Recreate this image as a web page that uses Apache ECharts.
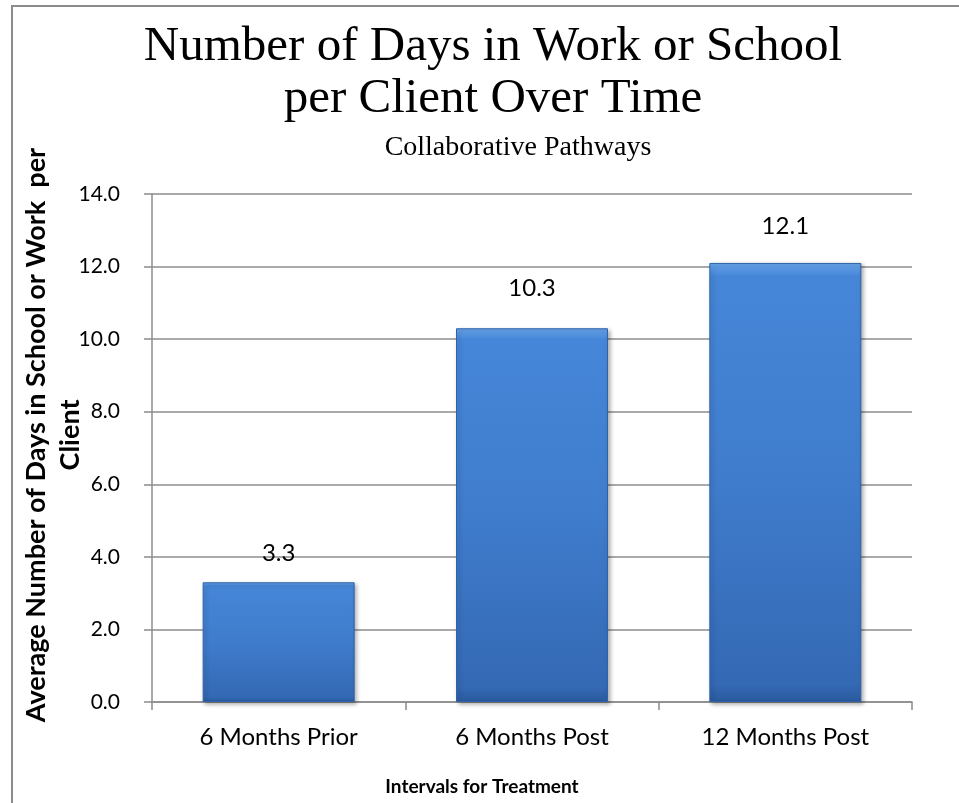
<!DOCTYPE html>
<html>
<head>
<meta charset="utf-8">
<script src="https://cdn.jsdelivr.net/npm/echarts@6/dist/echarts.min.js"></script>
<style>
  html, body { margin: 0; padding: 0; background: #fff; }
  #chart { width: 959px; height: 803px; }
</style>
</head>
<body>
<div id="chart"></div>
<script>
// data
var categories = ['6 Months Prior', '6 Months Post', '12 Months Post']
var daysPerClient = [3.3, 10.3, 12.1]
var yTicks = { min: 0, max: 14, interval: 2 }
// gap between bar top and its value label (Excel placed them by hand)
var labelGaps = [17, 28, 25]

var chart = echarts.init(document.getElementById('chart'))

var barColor = new echarts.graphic.LinearGradient(0, 0, 0, 1, [
  { offset: 0, color: '#6aa6ec' },
  { offset: 0.03, color: '#4686d8' },
  { offset: 0.5, color: '#3f7ccc' },
  { offset: 0.96, color: '#3469b4' },
  { offset: 1, color: '#2a5a9e' }
])

var barData = daysPerClient.map(function (v, i) {
  return { value: v, label: { distance: labelGaps[i] } }
})

var option = {
  backgroundColor: '#fff',
  title: [
    {
      text: 'Number of Days in Work or School\nper Client Over Time',
      left: 493,
      textAlign: 'center',
      top: 21,
      padding: 0,
      textStyle: {
        fontFamily: 'Liberation Serif',
        fontWeight: 'normal',
        fontSize: 49,
        lineHeight: 52,
        color: '#000'
      }
    },
    {
      text: 'Collaborative Pathways',
      left: 518,
      textAlign: 'center',
      top: 132,
      padding: 0,
      textStyle: {
        fontFamily: 'Liberation Serif',
        fontWeight: 'normal',
        fontSize: 28,
        lineHeight: 32,
        color: '#000'
      }
    }
  ],
  graphic: [
    {
      // chart frame (only top and left edges are visible)
      type: 'rect',
      shape: { x: 12, y: 6, width: 1000, height: 1000 },
      style: { fill: 'none', stroke: '#8c8c8c', lineWidth: 2 },
      silent: true
    }
  ],
  grid: {
    left: 152,
    right: 47,
    top: 194,
    bottom: 101
  },
  xAxis: {
    type: 'category',
    data: categories,
    name: 'Intervals for Treatment',
    nameLocation: 'middle',
    nameGap: 75,
    nameMoveOverlap: false,
    nameTextStyle: {
      fontFamily: 'Lato',
      fontWeight: 'bold',
      fontSize: 19,
      color: '#000',
      padding: [0, 100, 0, 0]
    },
    axisLine: { lineStyle: { color: '#8c8c8c', width: 1.5 } },
    axisTick: { show: true, length: 8, lineStyle: { color: '#8c8c8c', width: 1.5 } },
    axisLabel: {
      margin: 23,
      fontFamily: 'Lato',
      fontSize: 24,
      color: '#000'
    }
  },
  yAxis: {
    type: 'value',
    min: yTicks.min,
    max: yTicks.max,
    interval: yTicks.interval,
    name: 'Average Number of Days in School or Work  per\nClient',
    nameLocation: 'middle',
    nameGap: 65,
    nameMoveOverlap: false,
    nameTextStyle: {
      fontFamily: 'Lato',
      fontWeight: 'bold',
      fontSize: 27,
      lineHeight: 34,
      color: '#000',
      padding: [0, 0, 0, 26]
    },
    axisLine: { show: true, lineStyle: { color: '#8c8c8c', width: 1.5 } },
    axisTick: { show: true, length: 8, lineStyle: { color: '#8c8c8c', width: 1.5 } },
    splitLine: { lineStyle: { color: '#8c8c8c', width: 1.5 } },
    axisLabel: {
      margin: 32,
      fontFamily: 'Lato',
      fontSize: 21,
      color: '#000',
      formatter: function (v) { return v.toFixed(1) }
    }
  },
  series: [
    {
      name: 'Days',
      type: 'bar',
      data: barData,
      barWidth: '60%',
      itemStyle: {
        color: barColor,
        borderColor: '#2f62a8',
        borderWidth: 1,
        shadowBlur: 4,
        shadowOffsetX: 2,
        shadowOffsetY: 2,
        shadowColor: 'rgba(0, 0, 0, 0.3)'
      },
      label: {
        show: true,
        position: 'top',
        fontFamily: 'Lato',
        fontSize: 24,
        color: '#000',
        formatter: function (p) { return p.value.toFixed(1) }
      }
    }
  ]
}

chart.setOption(option)
</script>
</body>
</html>
